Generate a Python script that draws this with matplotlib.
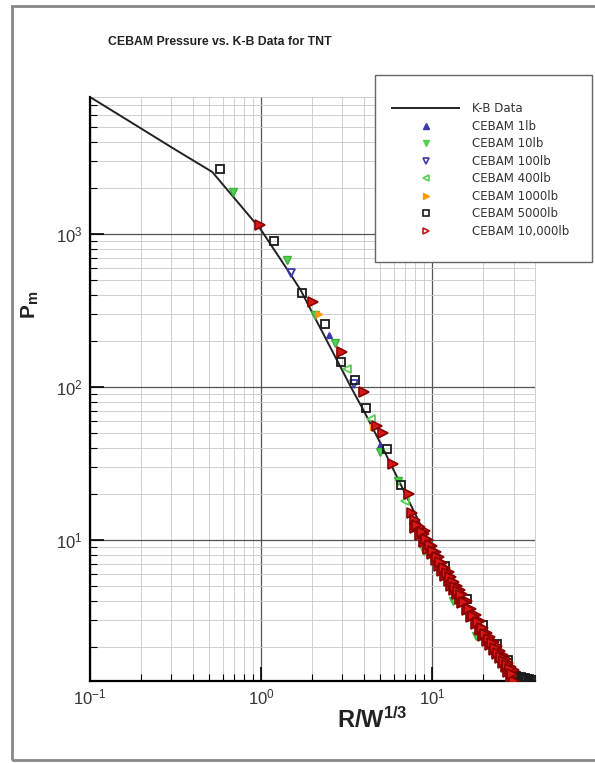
"""
CEBAM peak pressure vs. Kingery-Bulmash data for TNT (log-log).
"""

import matplotlib
matplotlib.use("Agg")
import matplotlib.pyplot as plt
from matplotlib.patches import Rectangle
from matplotlib.lines import Line2D

plt.rcParams['font.family'] = ['Liberation Sans', 'DejaVu Sans']
plt.rcParams['mathtext.fontset'] = 'custom'
plt.rcParams['mathtext.rm'] = 'Liberation Sans'
plt.rcParams['mathtext.bf'] = 'Liberation Sans:bold'

# K-B reference curve (scaled distance, peak pressure)
kb_x = [0.1, 0.2, 0.3, 0.52, 0.7, 1.0, 1.5, 1.71, 2.0, 3.0, 3.36, 4.0, 5.0, 7.0,
        9.5, 12.0, 15.0, 20.0, 25.0, 30.0, 35.0, 40.0]
kb_y = [7900, 4900, 3700, 2550, 1720, 1070, 540, 430, 306, 128, 100, 70, 43, 20,
        10, 6.5, 4.3, 2.6, 1.85, 1.45, 1.3, 1.2]

# CEBAM results per charge weight
lb1_x = [2.5, 5.0, 10.0]
lb1_y = [220, 42, 8.8]

lb10_x = [0.685, 1.42, 2.07, 2.7, 4.96, 6.35, 9.0, 13.2, 18.0]
lb10_y = [1885, 675, 295, 193, 37.7, 24.5, 8.5, 4.0, 2.35]

lb100_x = [1.5, 3.5, 8.0]
lb100_y = [560, 105, 12.5]

lb400_x = [3.2, 4.4, 7.0, 11.0]
lb400_y = [132, 62, 18, 6.9]

lb1000_x = [2.2, 4.5, 9.5]
lb1000_y = [300, 55, 9.6]

lb5000_x = [0.58, 1.19, 1.75, 2.37, 2.95, 3.54, 4.14, 5.43, 6.6,
            12.0, 16.0, 20.0, 24.0, 28.0,
            30.0, 31.0, 32.0, 33.0, 34.0, 35.0, 36.0, 37.0, 38.0, 39.0, 40.0]
lb5000_y = [2650, 905, 410, 257, 147, 112, 73, 39.6, 23,
            6.8, 4.1, 2.8, 2.1, 1.65,
            1.32, 1.3, 1.28, 1.27, 1.26, 1.25, 1.24, 1.23, 1.22, 1.21, 1.2]

lb10000_x = [0.99, 2.01, 3.0, 4.02, 4.75, 5.2, 5.96, 7.3, 7.6, 9.1,
             8.0, 8.5, 9.0, 9.5, 10.0, 10.5, 11.0, 11.5, 12.0, 12.5, 13.0, 13.5,
             14.0, 14.5, 15.0, 16.0, 17.0, 18.0, 19.0, 20.0, 21.0, 22.0, 23.0,
             24.0, 25.0, 26.0, 27.0, 28.0, 29.0, 30.0,
             8.0, 8.5, 9.0, 9.5, 10.0, 10.5, 11.0, 11.5, 12.0, 12.5, 13.0, 13.5,
             14.0, 14.5, 15.0, 16.0, 17.0, 18.0, 19.0, 20.0, 21.0, 22.0, 23.0,
             24.0, 25.0, 26.0, 27.0, 28.0, 29.0, 30.0,
             8.2, 8.7, 9.2, 9.7, 10.2, 10.7, 11.2, 11.7, 12.2, 12.7, 13.2, 13.7,
             14.2, 14.7, 15.5, 16.5, 17.5, 18.5, 19.5, 20.5, 21.5, 22.5, 23.5,
             24.5, 25.5, 26.5, 27.5, 28.5, 29.5]
lb10000_y = [1145, 360, 170, 93, 56, 50, 31.6, 20, 15, 11.4,
             13.6, 12.2, 11.0, 10.0, 9.2, 8.4, 7.7, 7.1, 6.6, 6.2, 5.75, 5.35,
             5.0, 4.7, 4.45, 3.98, 3.57, 3.23, 2.94, 2.68, 2.48, 2.31, 2.15,
             2.02, 1.89, 1.78, 1.67, 1.58, 1.49, 1.42,
             12.0, 10.8, 9.7, 8.8, 8.1, 7.4, 6.8, 6.3, 5.8, 5.4, 5.05, 4.72,
             4.42, 4.15, 3.9, 3.5, 3.15, 2.85, 2.6, 2.36, 2.2, 2.05, 1.92,
             1.8, 1.69, 1.58, 1.48, 1.38, 1.28, 1.2,
             12.6, 11.3, 10.2, 9.3, 8.5, 7.8, 7.2, 6.6, 6.1, 5.7, 5.3, 4.95,
             4.65, 4.35, 3.95, 3.55, 3.2, 2.92, 2.67, 2.45, 2.27, 2.11, 1.97,
             1.84, 1.73, 1.62, 1.52, 1.43, 1.34]

fig = plt.figure(figsize=(5.95, 7.63), dpi=100)
ax = fig.add_axes([0.151, 0.1075, 0.748, 0.7655])

ax.plot(kb_x, kb_y, color='#222222', lw=1.4, zorder=3)
ax.plot(lb1_x, lb1_y, ls='none', marker='^', ms=4, color='#3a3aa8', zorder=4)
ax.plot(lb10_x, lb10_y, ls='none', marker='v', ms=5.5, color='#55d055',
        mec='#3cb03c', zorder=4)
ax.plot(lb100_x, lb100_y, ls='none', marker='v', ms=5.5, mfc='none',
        mec='#3a3aa8', mew=1.3, zorder=4)
ax.plot(lb400_x, lb400_y, ls='none', marker='<', ms=5.5, mfc='none',
        mec='#55d055', mew=1.3, zorder=4)
ax.plot(lb1000_x, lb1000_y, ls='none', marker='>', ms=5, color='#ff9900', zorder=4)
ax.plot(lb5000_x, lb5000_y, ls='none', marker='s', ms=5.5, mfc='none',
        mec='#1a1a1a', mew=1.3, zorder=5)
ax.plot(lb10000_x, lb10000_y, ls='none', marker='>', ms=7, mfc='#d81818',
        mec='#8a0000', mew=1.2, zorder=6)

ax.set_xscale('log')
ax.set_yscale('log')
ax.set_xlim(0.1, 40)
ax.set_ylim(1.2, 7900)

ax.grid(True, which='major', color='#555555', lw=0.9)
ax.grid(True, which='minor', color='#c8c8c8', lw=0.6)
ax.set_axisbelow(True)
ax.tick_params(which='major', direction='in', length=10, width=1.2,
               labelsize=12, labelcolor='#333333', pad=5)
ax.tick_params(which='minor', direction='in', length=5, width=0.8)
for side in ['top', 'right']:
    ax.spines[side].set_color('#c8c8c8')
    ax.spines[side].set_linewidth(0.6)
for side in ['left', 'bottom']:
    ax.spines[side].set_linewidth(1.6)

# legend handles (open markers as in the original key)
handles = [
    Line2D([], [], color='#222222', lw=1.4),
    Line2D([], [], ls='none', marker='^', ms=4, color='#3a3aa8'),
    Line2D([], [], ls='none', marker='v', ms=4.5, color='#55d055'),
    Line2D([], [], ls='none', marker='v', ms=5, mfc='none', mec='#3a3aa8', mew=1.2),
    Line2D([], [], ls='none', marker='<', ms=5, mfc='none', mec='#55d055', mew=1.2),
    Line2D([], [], ls='none', marker='>', ms=4.5, color='#ff9900'),
    Line2D([], [], ls='none', marker='s', ms=5, mfc='none', mec='#1a1a1a', mew=1.2),
    Line2D([], [], ls='none', marker='>', ms=5, mfc='none', mec='#cc1111', mew=1.2),
]
labels = ['K-B Data', 'CEBAM 1lb', 'CEBAM 10lb', 'CEBAM 100lb', 'CEBAM 400lb',
          'CEBAM 1000lb', 'CEBAM 5000lb', 'CEBAM 10,000lb']

# legend box (drawn separately to control padding)
fig.patches.append(Rectangle((375 / 595, 1 - 262 / 763), 217 / 595, 187 / 763,
                             transform=fig.transFigure, fc='white',
                             ec='#666666', lw=1.0, zorder=10))
leg = fig.legend(handles, labels, loc='upper left',
                 bbox_to_anchor=(383 / 595, 1 - 93 / 763),
                 frameon=False, handlelength=5.6,
                 handletextpad=1.1, labelspacing=0.38, borderpad=0.3,
                 numpoints=1, prop={'family': 'DejaVu Sans', 'size': 8.5})
leg.set_zorder(11)
for t in leg.get_texts():
    t.set_color('#333333')

# outer frame
fig.patches.append(Rectangle((12 / 595, 3 / 763), 1.0, 754 / 763,
                             transform=fig.transFigure, fill=False,
                             ec='#888888', lw=2.0))

fig.text(108 / 595, 1 - 42 / 763, 'CEBAM Pressure vs. K-B Data for TNT',
         ha='left', va='center', fontsize=8.8, fontweight='bold', color='#222222')
fig.text(30 / 595, 1 - 305 / 763, r'$\mathbf{P_m}$', rotation=90,
         ha='center', va='center', fontsize=15, color='#222222')
fig.text(372 / 595, 1 - 720 / 763, r'$\mathbf{R/W^{1/3}}$',
         ha='center', va='center', fontsize=17, color='#222222')

fig.savefig('out.png', dpi=100)
